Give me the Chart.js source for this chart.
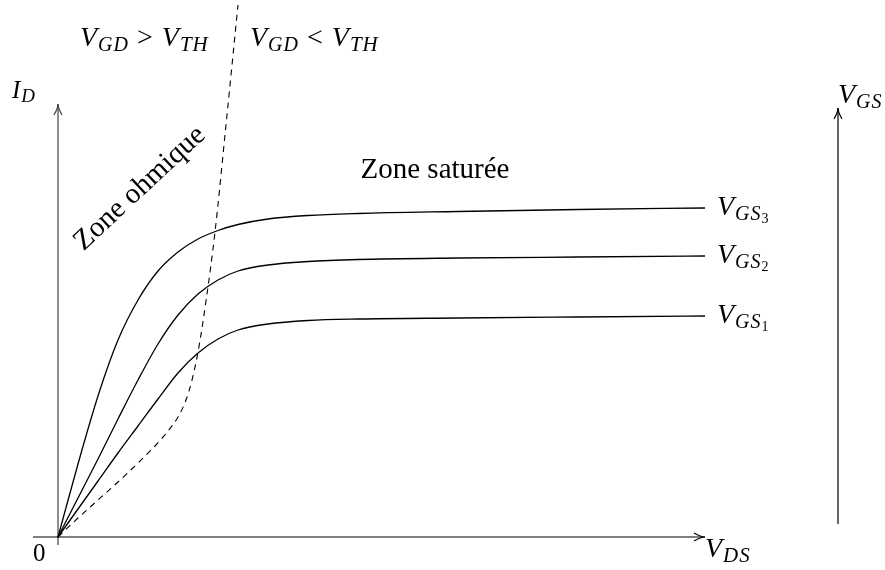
<!DOCTYPE html>
<html>
<head>
<meta charset="utf-8">
<script src="https://cdn.jsdelivr.net/npm/chart.js@4"></script>
<style>
  body { margin: 0; background: #fff; }
  #cadre { width: 885px; height: 570px; }
</style>
</head>
<body>
<div id="cadre"><canvas id="graphique"></canvas></div>
<script>
// Valeurs (unités arbitraires, origine au point 0)
const vds = [0, 20, 40, 60, 80, 100, 120, 140, 160, 180, 210, 250, 300, 400, 520, 647];

const idGS3 = [0, 73, 141, 197, 237, 266, 285, 298, 306.5, 312.5, 318, 321.5, 323.5, 325.5, 327.5, 329];
const idGS2 = [0, 39, 78, 118, 157, 193, 222, 243, 257, 266, 272, 275.5, 277.5, 279, 280, 281];
const idGS1 = [0, 28, 56, 84, 111, 138, 164, 184, 198, 207, 213, 216.5, 218, 219, 220, 221];

// Limite zone ohmique / zone saturée (pointillés)
const vdsLimite = [0, 20, 40, 60, 80, 97, 110, 120, 128, 134, 140, 148, 157, 168, 180];
const idLimite  = [0, 19, 37, 55, 74, 91, 106, 120, 137, 157, 185, 236, 305, 412, 532];

// Etendue des axes
const xMin = -58, xMax = 827;
const yMin = -33, yMax = 537;

function points(xs, ys) {
    return xs.map((x, i) => ({ x: x, y: ys[i] }));
}

function courbe(xs, ys, pointille) {
    return {
        data: points(xs, ys),
        showLine: true,
        borderColor: "#000",
        borderWidth: pointille ? 1.1 : 1.3,
        borderDash: pointille ? [6, 5] : [],
        pointRadius: 0,
        cubicInterpolationMode: "monotone",
        fill: false
    };
}

// Ecrit un texte "mathématique" morceau par morceau (indices, italique)
// morceau : [texte, taille, italique, decalage vertical]
function texte(ctx, x, y, morceaux) {
    let cx = x;
    ctx.letterSpacing = "1px";
    for (const [t, taille, ital, dy] of morceaux) {
        ctx.font = (ital ? "italic " : "") + taille + 'px "Liberation Serif"';
        ctx.fillText(t, cx, y + dy);
        cx += ctx.measureText(t).width;
    }
    ctx.letterSpacing = "0px";
}

// Flèche ouverte style LaTeX
function fleche(ctx, x1, y1, x2, y2) {
    ctx.beginPath();
    ctx.moveTo(x1, y1);
    ctx.lineTo(x2, y2);
    ctx.stroke();
    const a = Math.atan2(y2 - y1, x2 - x1);
    ctx.beginPath();
    ctx.moveTo(x2 - 11 * Math.cos(a) + 4 * Math.sin(a), y2 - 11 * Math.sin(a) - 4 * Math.cos(a));
    ctx.quadraticCurveTo(x2 - 4 * Math.cos(a), y2 - 4 * Math.sin(a), x2, y2);
    ctx.quadraticCurveTo(x2 - 4 * Math.cos(a), y2 - 4 * Math.sin(a),
        x2 - 11 * Math.cos(a) - 4 * Math.sin(a), y2 - 11 * Math.sin(a) + 4 * Math.cos(a));
    ctx.stroke();
}

const decor = {
    id: "decor",
    beforeDatasetsDraw(chart) {
        const ctx = chart.ctx;
        const sx = chart.scales.x, sy = chart.scales.y;
        ctx.save();
        ctx.lineWidth = 1.2;
        // axe I_D
        ctx.strokeStyle = "#444";
        fleche(ctx, sx.getPixelForValue(0), sy.getPixelForValue(-8), sx.getPixelForValue(0), sy.getPixelForValue(433));
        ctx.strokeStyle = "#000";
        // axe V_DS
        fleche(ctx, sx.getPixelForValue(-25), sy.getPixelForValue(0), sx.getPixelForValue(647), sy.getPixelForValue(0));
        // axe V_GS
        fleche(ctx, sx.getPixelForValue(780), sy.getPixelForValue(13), sx.getPixelForValue(780), sy.getPixelForValue(429));
        ctx.restore();
    },
    afterDraw(chart) {
        const ctx = chart.ctx;
        ctx.save();
        ctx.fillStyle = "#000";
        ctx.textBaseline = "alphabetic";
        const M = 28, S = 20;
        texte(ctx, 33, 561, [["0", 25, false, 0]]);
        texte(ctx, 12, 98, [["I", 25, true, 0], ["D", 19, true, 4]]);
        texte(ctx, 838, 103, [["V", M, true, 0], ["GS", S, true, 5]]);
        texte(ctx, 705, 557, [["V", M, true, 0], ["DS", S + 1, true, 5]]);
        texte(ctx, 80, 46, [["V", M, true, 0], ["GD", S, true, 5], [" > ", M, false, 0], ["V", M, true, 0], ["TH", S + 1, true, 5]]);
        texte(ctx, 250, 46, [["V", M, true, 0], ["GD", S, true, 5], [" < ", M, false, 0], ["V", M, true, 0], ["TH", S + 1, true, 5]]);
        texte(ctx, 717, 215, [["V", M, true, 0], ["GS", S, true, 5], ["3", 14, false, 8]]);
        texte(ctx, 717, 263, [["V", M, true, 0], ["GS", S, true, 5], ["2", 14, false, 8]]);
        texte(ctx, 717, 323, [["V", M, true, 0], ["GS", S, true, 5], ["1", 14, false, 8]]);

        // zones
        ctx.font = '29px "Liberation Serif"';
        ctx.textAlign = "center";
        ctx.fillText("Zone saturée", 435, 178);
        ctx.translate(145, 194);
        ctx.rotate(-43 * Math.PI / 180);
        ctx.fillText("Zone ohmique", 0, 0);
        ctx.restore();
    }
};

new Chart(document.getElementById("graphique"), {
    type: "scatter",
    data: {
        datasets: [
            courbe(vds, idGS3, false),
            courbe(vds, idGS2, false),
            courbe(vds, idGS1, false),
            courbe(vdsLimite, idLimite, true)
        ]
    },
    options: {
        responsive: true,
        maintainAspectRatio: false,
        animation: false,
        layout: { padding: 0 },
        plugins: { legend: { display: false }, tooltip: { enabled: false } },
        scales: {
            x: { type: "linear", min: xMin, max: xMax, display: false },
            y: { type: "linear", min: yMin, max: yMax, display: false }
        }
    },
    plugins: [decor]
});
</script>
</body>
</html>
